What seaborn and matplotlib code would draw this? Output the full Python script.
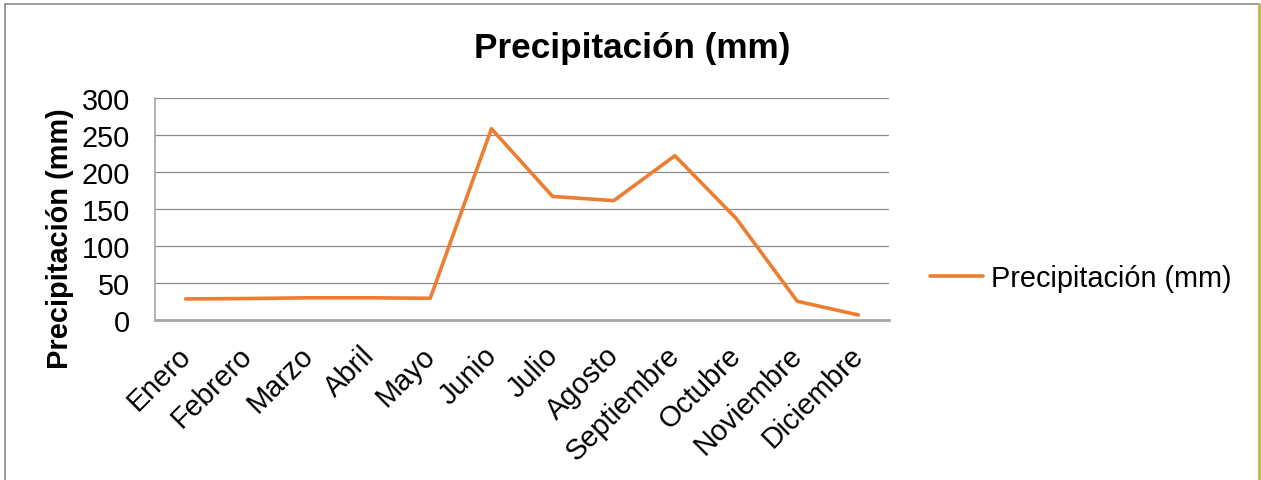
import matplotlib
matplotlib.use("Agg")
import matplotlib.pyplot as plt
import matplotlib.transforms as mtransforms
import seaborn as sns
import pandas as pd
from matplotlib.lines import Line2D

meses = ["Enero", "Febrero", "Marzo", "Abril", "Mayo", "Junio", "Julio",
         "Agosto", "Septiembre", "Octubre", "Noviembre", "Diciembre"]
precipitacion = [28.5, 29, 30, 30, 29.4, 258.5, 167, 161.3, 222, 137.4, 25.3, 6.8]
serie = "Precipitación (mm)"
yticks = [0, 50, 100, 150, 200, 250, 300]

sns.set_style("white")
plt.rcParams["font.family"] = ["Liberation Sans", "DejaVu Sans"]
plt.rcParams["text.color"] = "black"
plt.rcParams["axes.labelcolor"] = "black"
plt.rcParams["xtick.color"] = "black"
plt.rcParams["ytick.color"] = "black"

df = pd.DataFrame({"mes": meses, "valor": precipitacion})
df["pos"] = range(len(meses))

fig = plt.figure(figsize=(12.61, 4.81), dpi=100)
ax = fig.add_axes([155/1261, 1 - 321/481, (889-155)/1261, (321-99)/481])

sns.lineplot(data=df, x="pos", y="valor", ax=ax, color="#ED7D31",
             linewidth=2.6, legend=False, sort=False)

ax.set_xticks(range(len(meses)))
ax.set_xticklabels(meses, fontsize=20.8, rotation=45, ha="right", va="top",
                   rotation_mode="anchor")
ax.set_yticks(yticks)
ax.set_yticklabels([str(v) for v in yticks], fontsize=20.8)
ax.set_xlim(-0.5, len(meses) - 0.5)
ax.set_ylim(0, 300)
ax.tick_params(axis="x", length=0, pad=15)
ax.tick_params(axis="y", length=0, pad=18)
ax.set_xlabel("")
ax.set_ylabel(serie, fontsize=20.9, fontweight="bold")
ax.yaxis.set_label_coords(-0.110, 0.369)

ax.grid(axis="y", color="#8C8C8C", linewidth=0.9)
ax.grid(axis="x", visible=False)
ax.set_axisbelow(True)
for s in ["top", "right"]:
    ax.spines[s].set_visible(False)
ax.spines["left"].set_color("#A6A6A6")
ax.spines["left"].set_linewidth(1.2)
ax.spines["bottom"].set_color("#A6A6A6")
ax.spines["bottom"].set_linewidth(2.0)

# shift the rotated month labels slightly left (after tick_params)
offset = mtransforms.ScaledTranslation(-9/100, 0, fig.dpi_scale_trans)
for tick in ax.xaxis.get_major_ticks():
    tick.label1.set_transform(tick.label1.get_transform() + offset)

fig.text(632/1261, 1 - 49/481, serie, fontsize=25.3, fontweight="bold",
         ha="center", va="center")

handle = Line2D([], [], color="#ED7D31", linewidth=2.6)
fig.legend([handle], [serie], loc="center left",
           bbox_to_anchor=(930/1261, 1 - 279/481), frameon=False,
           fontsize=20.8, handlelength=1.85, handletextpad=0.25,
           borderpad=0, borderaxespad=0)

# figure frame
fig.add_artist(Line2D([5/1261, 5/1261], [0, 1 - 5/481], transform=fig.transFigure,
                      color="#8C8C8C", linewidth=1.2))
fig.add_artist(Line2D([5/1261, 1259/1261], [1 - 5/481, 1 - 5/481],
                      transform=fig.transFigure, color="#8C8C8C", linewidth=1.2))
fig.add_artist(Line2D([1259/1261, 1259/1261], [0, 1 - 5/481],
                      transform=fig.transFigure, color="#B5B94A", linewidth=2.0))

fig.savefig("out.png", dpi=100)
